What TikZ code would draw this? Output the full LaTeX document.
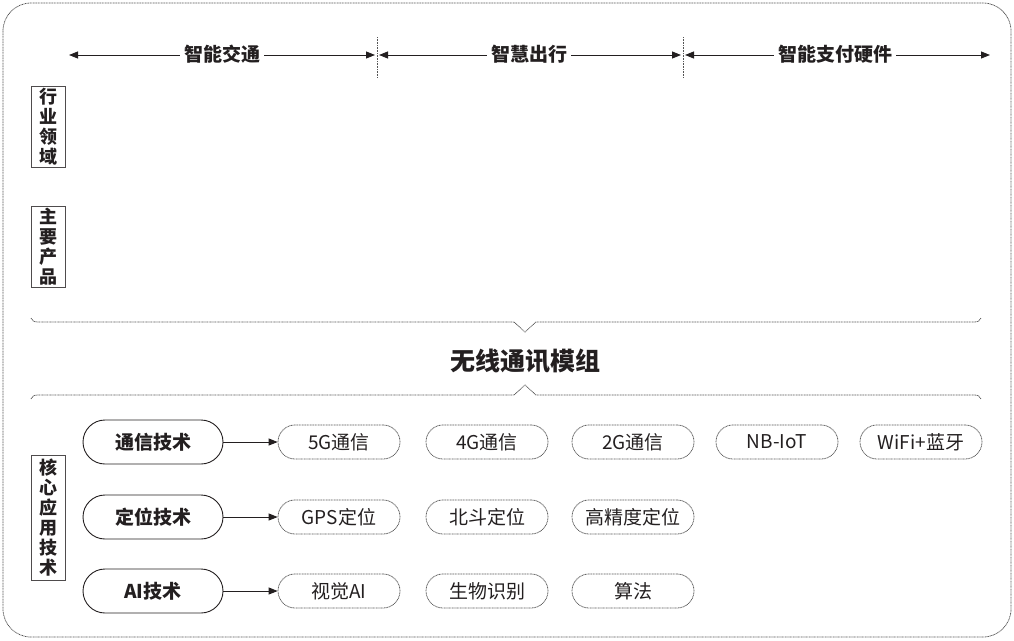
\documentclass[tikz,border=0pt]{standalone}
\usepackage{fontspec}
\setmainfont{Noto Sans CJK SC}
\usetikzlibrary{arrows.meta}
\definecolor{ink}{HTML}{231F20}
\definecolor{dotc}{HTML}{555555}
\begin{document}
\begin{tikzpicture}[x=1pt,y=-1pt,
  dotline/.style={draw=dotc, line width=0.75pt, dash pattern=on 1pt off 0.6pt},
  span/.style={draw=ink, line width=0.9pt, {Triangle[length=9pt,width=7pt]}-{Triangle[length=9pt,width=7pt]}},
  toplab/.style={fill=white, inner xsep=4pt, inner ysep=1pt, text=ink, font=\fontsize{19}{22}\selectfont\bfseries},
  vbox/.style={draw=ink!80, line width=0.8pt, minimum width=34pt, inner xsep=1pt, inner ysep=0pt, align=center, text=ink, font=\fontsize{18}{20}\selectfont\bfseries},
  solidpill/.style={draw=ink, line width=0.9pt, rounded corners=22pt, minimum width=140pt, minimum height=44pt, text=ink, font=\fontsize{19}{22}\selectfont\bfseries},
  dashpill/.style={dotline, rounded corners=17pt, minimum width=122pt, minimum height=34pt, text=ink, font=\fontsize{19}{22}\selectfont},
  link/.style={draw=ink, line width=0.9pt, -{Triangle[length=9pt,width=7pt]}}
]
\useasboundingbox (0,0) rectangle (1014,640);
% outer frame
\draw[dotline, rounded corners=28pt] (3,3) rectangle (1011,637);

% top spans
\coordinate (s1a) at (69,55);  \coordinate (s1b) at (375,55);
\coordinate (s2a) at (379,55); \coordinate (s2b) at (681,55);
\coordinate (s3a) at (685,55); \coordinate (s3b) at (990,55);
\draw[span] (s1a) -- (s1b);
\draw[span] (s2a) -- (s2b);
\draw[span] (s3a) -- (s3b);
\coordinate (v1a) at (377,37); \coordinate (v1b) at (377,78);
\coordinate (v2a) at (683,37); \coordinate (v2b) at (683,78);
\draw[dotline] (v1a) -- (v1b);
\draw[dotline] (v2a) -- (v2b);
\node[toplab] (t1) at (222,54) {智能交通};
\node[toplab] (t2) at (529,54) {智慧出行};
\node[toplab] (t3) at (835,54) {智能支付硬件};

% left vertical labels
\node[vbox, minimum height=81pt] (hy) at (48,127) {行\\业\\领\\域};
\node[vbox, minimum height=81pt] (cp) at (48,247) {主\\要\\产\\品};
\node[vbox, minimum height=125pt] (hx) at (48,517.5) {核\\心\\应\\用\\技\\术};

% brace lines
\draw[dotline] (31,318) .. controls (32,321) and (34,322) .. (38,322) -- (514,322) -- (525,332) -- (536,322) -- (974,322) .. controls (978,322) and (980,321) .. (981,318);
\draw[dotline] (31,399) .. controls (32,396) and (34,395) .. (38,395) -- (514,395) -- (525,385) -- (536,395) -- (974,395) .. controls (978,395) and (980,396) .. (981,399);
\node[text=ink, font=\fontsize{25}{28}\selectfont\bfseries] (mz) at (525,361) {无线通讯模组};

% core technologies
\node[solidpill] (p1) at (153,442) {通信技术};
\node[solidpill] (p2) at (153,517) {定位技术};
\node[solidpill] (p3) at (153,591) {AI技术};

\node[dashpill] (a1) at (339,442) {5G通信};
\node[dashpill] (a2) at (487,442) {4G通信};
\node[dashpill] (a3) at (633,442) {2G通信};
\node[dashpill] (a4) at (777,442) {NB-IoT};
\node[dashpill] (a5) at (921,442) {WiFi+蓝牙};

\node[dashpill] (b1) at (339,517) {GPS定位};
\node[dashpill] (b2) at (487,517) {北斗定位};
\node[dashpill] (b3) at (633,517) {高精度定位};

\node[dashpill] (c1) at (339,591) {视觉AI};
\node[dashpill] (c2) at (487,591) {生物识别};
\node[dashpill] (c3) at (633,591) {算法};

\draw[link] (p1.east) -- (a1.west);
\draw[link] (p2.east) -- (b1.west);
\draw[link] (p3.east) -- (c1.west);
\end{tikzpicture}
\end{document}
